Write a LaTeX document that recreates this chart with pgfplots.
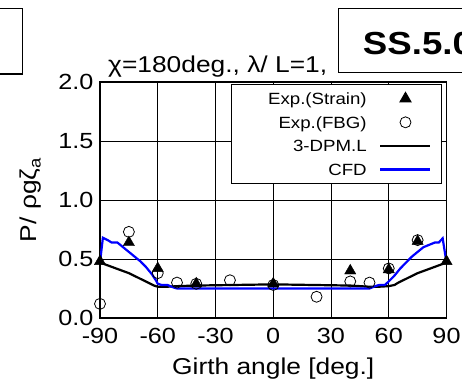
\documentclass[border=0pt]{standalone}
\usepackage{fontspec}
\setmainfont{Liberation Sans}[FakeStretch=1.15]
\usepackage{pgfplots}
\pgfplotsset{compat=1.18}
\definecolor{cfdblue}{RGB}{0,0,255}
\newcommand{\lgt}[1]{\makebox[137.7bp][r]{#1\hspace{12.7bp}}}
\begin{document}
\begin{tikzpicture}
\useasboundingbox (0,0) rectangle (462bp,381bp);
\clip (0,0) rectangle (462bp,381bp);
\begin{axis}[
  at={(100bp,63bp)}, anchor=south west,
  scale only axis, width=346.5bp, height=236bp,
  xmin=-90, xmax=90, ymin=0, ymax=2,
  xtick={-90,-60,-30,0,30,60,90},
  ytick={0,0.5,1,1.5,2},
  yticklabel style={xshift=-3bp, /pgf/number format/.cd, fixed, fixed zerofill, precision=1},
  /pgf/number format/assume math mode=true,
  tick label style={font=\fontsize{22}{24}\selectfont},
  xticklabel style={yshift=-7bp},
  major tick length=0pt,
  grid=major,
  grid style={black, line width=0.8bp},
  axis line style={black, line width=1.4bp},
  xlabel={Girth angle [deg.]},
  ylabel={P/ ρgζ\textsubscript{a}},
  every axis x label/.style={at={(axis description cs:0.5,-0.2415)}, anchor=base, font=\fontsize{23}{26}\selectfont},
  every axis y label/.style={at={(axis description cs:-0.199,0.5)}, anchor=center, rotate=90, font=\fontsize{23}{26}\selectfont},
  legend plot pos=right,
  legend style={at={(0.987,0.9915)}, anchor=north east, draw=black, line width=0.8bp,
    font=\fontsize{16.3}{18}\selectfont, fill=white, inner xsep=10bp, inner ysep=2.5bp,
    row sep=0bp, column sep=0bp, nodes={inner sep=0bp, text height=17.6bp, text depth=6bp}},
  legend image code/.code={\draw[mark repeat=2,mark phase=2,#1] plot coordinates {(0bp,0bp) (25bp,0bp) (50bp,0bp)};},
]
\addplot[black, line width=2.2bp, forget plot] coordinates {
(-90,0.47) (-85,0.44) (-80,0.41) (-75,0.38) (-70,0.34) (-65,0.30) (-62,0.275) (-60,0.265)
(-55,0.265) (-50,0.27) (-40,0.275) (-20,0.28) (0,0.285) (20,0.28) (40,0.275) (50,0.265)
(55,0.265) (60,0.27) (63,0.28) (65,0.30) (70,0.34) (75,0.38) (80,0.41) (85,0.44) (90,0.47)};
\addplot[cfdblue, line width=2.2bp, forget plot] coordinates {
(-90,0.47) (-88.5,0.68) (-86,0.66) (-84,0.64) (-81,0.64) (-78,0.60) (-75,0.56) (-72,0.52)
(-69,0.48) (-66,0.43) (-63,0.37) (-61,0.32) (-60,0.29) (-58,0.28) (-55,0.28) (-52,0.26)
(-50,0.25) (-40,0.25) (-30,0.25) (-20,0.25) (0,0.25) (20,0.25) (40,0.25) (48,0.25) (50,0.25)
(53,0.27) (55,0.28) (58,0.28) (60,0.31) (63,0.36) (66,0.42) (69,0.47) (72,0.52) (75,0.56)
(78,0.60) (81,0.62) (84,0.64) (86,0.64) (88,0.675) (90,0.47)};
\addplot[only marks, mark=triangle*, mark size=6.5bp, black] coordinates {
(-90,0.48) (-75,0.64) (-60,0.42) (-40,0.29) (0,0.29) (40,0.40) (60,0.41) (75,0.65) (90,0.48)};
\addlegendentry{\lgt{Exp.(Strain)}}
\addplot[only marks, mark=o, mark size=5.5bp, black, line width=0.8bp] coordinates {
(-90,0.12) (-75,0.73) (-60,0.38) (-50,0.30) (-40,0.29) (-22.5,0.32) (0,0.28) (22.5,0.18)
(40,0.31) (50,0.30) (60,0.42) (75,0.66)};
\addlegendentry{\lgt{Exp.(FBG)}}
\addlegendimage{black, line width=2.2bp}
\addlegendentry{\lgt{3-DPM.L}}
\addlegendimage{cfdblue, line width=2.2bp}
\addlegendentry{\lgt{CFD}}
\end{axis}
\node[anchor=base west, inner sep=0, font=\fontsize{23}{26}\selectfont] at (108bp,308.3bp) {χ=180deg., λ/ L=1,};
\draw[black, line width=1.4bp] (338.3bp,372.3bp) rectangle (480bp,308.3bp);
\node[anchor=base west, inner sep=0, font=\fontsize{32}{36}\selectfont\bfseries] at (362.7bp,326bp) {SS.5.0};
\draw[black, line width=1.4bp] (-20bp,372.7bp) rectangle (22.3bp,307bp);
\end{tikzpicture}
\end{document}
